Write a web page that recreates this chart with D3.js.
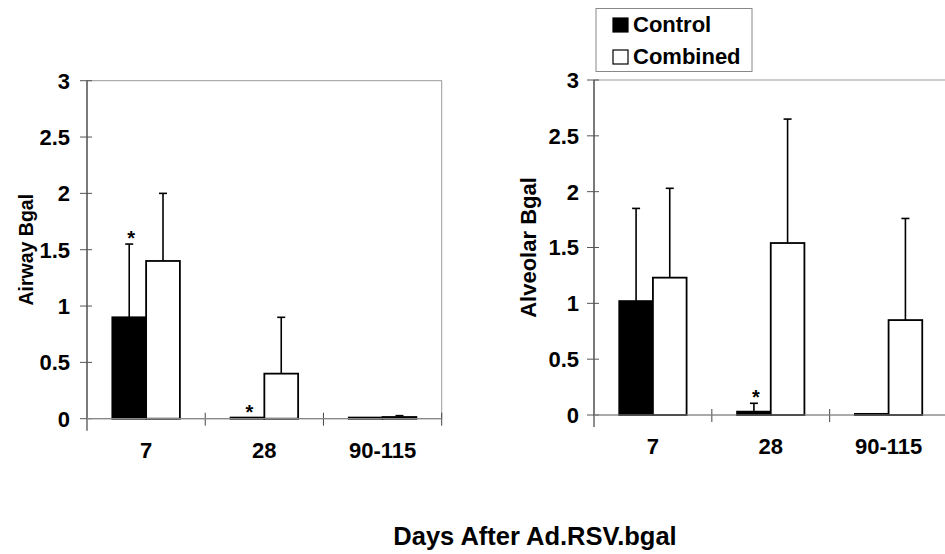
<!DOCTYPE html>
<html>
<head>
<meta charset="utf-8">
<script src="https://cdn.jsdelivr.net/npm/d3@7"></script>
<style>
    body { margin: 0; background: #fff; }
    svg { display: block; }
    text { font-family: "Liberation Sans", Arial, sans-serif; font-weight: bold; fill: #000; }
</style>
</head>
<body>
<svg id="chart" width="945" height="554"></svg>
<script>
const categories = ["7", "28", "90-115"];
const yTicks = [0, 0.5, 1, 1.5, 2, 2.5, 3];
const seriesNames = ["Control", "Combined"];

const airwayControl = [0.9, 0.01, 0.01];
const airwayControlErr = [0.65, 0, 0];
const airwayCombined = [1.4, 0.4, 0.015];
const airwayCombinedErr = [0.6, 0.5, 0.012];
const airwayStars = [true, true, false];

const alveolarControl = [1.02, 0.03, 0.01];
const alveolarControlErr = [0.83, 0.075, 0];
const alveolarCombined = [1.23, 1.54, 0.85];
const alveolarCombinedErr = [0.8, 1.11, 0.91];
const alveolarStars = [false, true, false];

const svg = d3.select("#chart");

function buildRows(control, controlErr, combined, combinedErr) {
    return categories.flatMap((c, i) => [
        {cat: c, series: "Control", value: control[i], err: controlErr[i]},
        {cat: c, series: "Combined", value: combined[i], err: combinedErr[i]}
    ]);
}

function drawPanel(opts) {
    const {left, right, top, bottom, rows, stars, title, titleX, titleSize, labelBase, tickLabelX} = opts;
    const g = svg.append("g");

    const x0 = d3.scaleBand().domain(categories).range([left, right]);
    const x1 = d3.scaleBand().domain(seriesNames)
        .range([0, x0.bandwidth()])
        .paddingInner(0)
        .paddingOuter(0.75);
    const y = d3.scaleLinear().domain([0, 3]).range([bottom, top]);

    // plot area border (light gray)
    g.append("rect")
        .attr("x", left).attr("y", top)
        .attr("width", right - left).attr("height", bottom - top)
        .attr("fill", "none")
        .attr("stroke", "#9a9a9a")
        .attr("stroke-width", 1);

    // y axis line and cross ticks
    g.append("line")
        .attr("x1", left).attr("x2", left)
        .attr("y1", top).attr("y2", bottom + 12)
        .attr("stroke", "#444").attr("stroke-width", 1.2);

    g.append("g").selectAll("line")
        .data(yTicks)
        .enter()
        .append("line")
        .attr("x1", left - 7).attr("x2", left + 5)
        .attr("y1", d => y(d)).attr("y2", d => y(d))
        .attr("stroke", "#555");

    g.append("g").selectAll("text")
        .data(yTicks)
        .enter()
        .append("text")
        .attr("x", tickLabelX)
        .attr("y", d => y(d))
        .attr("dy", "0.36em")
        .attr("text-anchor", "end")
        .attr("font-size", 22)
        .text(d => d);

    // category separator ticks along the zero line
    const bounds = categories.map(c => x0(c)).concat([right]);
    g.append("g").selectAll("line")
        .data(bounds.slice(1))
        .enter()
        .append("line")
        .attr("x1", d => d).attr("x2", d => d)
        .attr("y1", bottom - 6).attr("y2", bottom + 7)
        .attr("stroke", "#444");

    g.append("g").selectAll("text")
        .data(categories)
        .enter()
        .append("text")
        .attr("x", d => x0(d) + x0.bandwidth() / 2)
        .attr("y", labelBase)
        .attr("text-anchor", "middle")
        .attr("font-size", 22)
        .text(d => d);

    // bars
    g.append("g").selectAll("rect")
        .data(rows)
        .enter()
        .append("rect")
        .attr("x", d => x0(d.cat) + x1(d.series))
        .attr("y", d => y(d.value))
        .attr("width", x1.bandwidth())
        .attr("height", d => y(0) - y(d.value))
        .attr("fill", d => (d.series === "Control" ? "#000" : "#fff"))
        .attr("stroke", "#000")
        .attr("stroke-width", 1.8);

    // zero line over the bars
    g.append("line")
        .attr("x1", left).attr("x2", right)
        .attr("y1", bottom).attr("y2", bottom)
        .attr("stroke", "#888").attr("stroke-width", 1.2);

    // error bars (plus only)
    const errRows = rows.filter(d => d.err > 0);
    const errG = g.append("g")
        .attr("stroke", "#000")
        .attr("stroke-width", 1.6);
    errG.selectAll("line.v")
        .data(errRows)
        .enter()
        .append("line")
        .attr("class", "v")
        .attr("x1", d => x0(d.cat) + x1(d.series) + x1.bandwidth() / 2)
        .attr("x2", d => x0(d.cat) + x1(d.series) + x1.bandwidth() / 2)
        .attr("y1", d => y(d.value))
        .attr("y2", d => y(d.value + d.err));
    errG.selectAll("line.cap")
        .data(errRows)
        .enter()
        .append("line")
        .attr("class", "cap")
        .attr("x1", d => x0(d.cat) + x1(d.series) + x1.bandwidth() / 2 - 4)
        .attr("x2", d => x0(d.cat) + x1(d.series) + x1.bandwidth() / 2 + 4)
        .attr("y1", d => y(d.value + d.err))
        .attr("y2", d => y(d.value + d.err));

    // significance stars above control bars
    const starRows = rows.filter(d => d.series === "Control" && stars[categories.indexOf(d.cat)]);
    g.append("g").selectAll("text")
        .data(starRows)
        .enter()
        .append("text")
        .attr("x", d => x0(d.cat) + x1(d.series) + x1.bandwidth() / 2 + 2)
        .attr("y", d => y(d.value + d.err) + 1)
        .attr("text-anchor", "middle")
        .attr("font-size", 20)
        .text("*");

    // y axis title
    g.append("text")
        .attr("transform", `translate(${titleX},${(top + bottom) / 2}) rotate(-90)`)
        .attr("text-anchor", "middle")
        .attr("font-size", titleSize)
        .text(title);
}

drawPanel({
    left: 87, right: 441.7, top: 80.7, bottom: 418.7,
    rows: buildRows(airwayControl, airwayControlErr, airwayCombined, airwayCombinedErr),
    stars: airwayStars,
    title: "Airway Bgal", titleX: 33, titleSize: 19.5,
    labelBase: 458, tickLabelX: 70
});

drawPanel({
    left: 594, right: 947.5, top: 80, bottom: 415,
    rows: buildRows(alveolarControl, alveolarControlErr, alveolarCombined, alveolarCombinedErr),
    stars: alveolarStars,
    title: "Alveolar Bgal", titleX: 536, titleSize: 22,
    labelBase: 454, tickLabelX: 579
});

// legend
const legend = svg.append("g");
legend.append("rect")
    .attr("x", 596).attr("y", 8.5)
    .attr("width", 156).attr("height", 63)
    .attr("fill", "#fff")
    .attr("stroke", "#888")
    .attr("stroke-width", 1);

const legendItems = legend.selectAll("g")
    .data(seriesNames)
    .enter()
    .append("g")
    .attr("transform", (d, i) => `translate(613,${18 + i * 32})`);

legendItems.append("rect")
    .attr("width", 15).attr("height", 14)
    .attr("fill", d => (d === "Control" ? "#000" : "#fff"))
    .attr("stroke", "#000")
    .attr("stroke-width", 1.2);

legendItems.append("text")
    .attr("x", 20).attr("y", 14)
    .attr("font-size", 22)
    .text(d => d);

// shared x axis title
svg.append("text")
    .attr("x", 535).attr("y", 545)
    .attr("text-anchor", "middle")
    .attr("font-size", 25.5)
    .text("Days After Ad.RSV.bgal");
</script>
</body>
</html>
